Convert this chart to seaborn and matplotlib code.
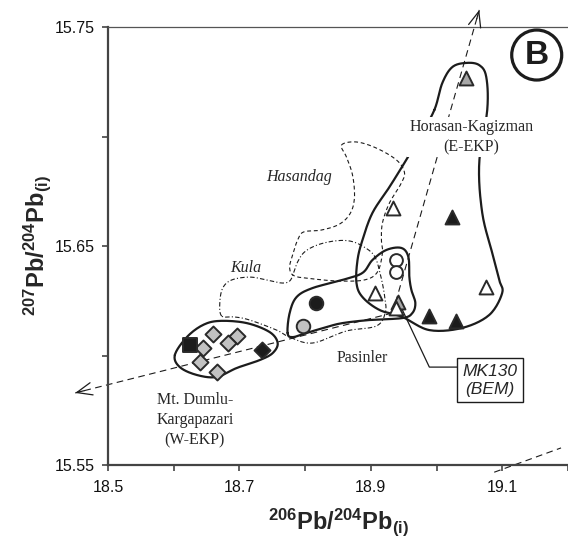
import numpy as np
import pandas as pd
import matplotlib
matplotlib.use("Agg")
import matplotlib.pyplot as plt
from matplotlib.patches import Ellipse
from matplotlib.ticker import FuncFormatter
import seaborn as sns

# --- sample groups: 206Pb/204Pb(i), 207Pb/204Pb(i) ---
dumlu_gray_x = [18.660, 18.645, 18.696, 18.683, 18.640, 18.666]
dumlu_gray_y = [15.6097, 15.6033, 15.6090, 15.6056, 15.5969, 15.5923]
dumlu_black_sq_x = [18.625]
dumlu_black_sq_y = [15.6048]
dumlu_black_dia_x = [18.735]
dumlu_black_dia_y = [15.6025]

pas_black_circ_x = [18.816]
pas_black_circ_y = [15.6238]
pas_gray_circ_x = [18.797]
pas_gray_circ_y = [15.6136]
pas_open_circ_x = [18.939, 18.939]
pas_open_circ_y = [15.6436, 15.6383]

open_tri_x = [18.934, 18.906, 18.938, 19.075]
open_tri_y = [15.6672, 15.6284, 15.6217, 15.6314]
gray_tri_x = [18.942, 19.045]
gray_tri_y = [15.6246, 15.7266]
black_tri_x = [18.989, 19.030, 19.023]
black_tri_y = [15.6182, 15.6159, 15.6634]

# --- field outlines ---
eekp_field = [(18.9966, 15.7121), (19.0087, 15.7244), (19.0239, 15.7317), (19.0452, 15.7336),
              (19.0649, 15.7326), (19.0756, 15.7272), (19.0771, 15.7121), (19.0649, 15.6879),
              (19.0695, 15.6651), (19.0847, 15.6468), (19.0953, 15.6345), (19.0998, 15.6285),
              (19.0801, 15.6185), (19.0391, 15.6126), (18.9890, 15.6116), (18.9480, 15.6176),
              (18.9131, 15.6208), (18.8872, 15.6267), (18.8781, 15.6331), (18.8797, 15.6436),
              (18.8872, 15.6527), (18.9024, 15.6651), (18.9282, 15.6769), (18.9510, 15.6879),
              (18.9730, 15.6990)]
pasinler_field = [(18.7733, 15.6103), (18.7764, 15.6194), (18.7870, 15.6267), (18.8113, 15.6308),
                  (18.8569, 15.6345), (18.8872, 15.6377), (18.9024, 15.6436), (18.9237, 15.6482),
                  (18.9465, 15.6491), (18.9571, 15.6450), (18.9586, 15.6358), (18.9617, 15.6299),
                  (18.9677, 15.6240), (18.9632, 15.6194), (18.9480, 15.6171), (18.8979, 15.6162),
                  (18.8569, 15.6148), (18.8326, 15.6130), (18.8022, 15.6103), (18.7809, 15.6084)]
wekp_field = [(18.6017, 15.6002), (18.6200, 15.6084), (18.6443, 15.6139), (18.6701, 15.6158),
              (18.7111, 15.6148), (18.7460, 15.6107), (18.7582, 15.6057), (18.7506, 15.6011),
              (18.7308, 15.5979), (18.6959, 15.5943), (18.6655, 15.5902), (18.6352, 15.5911),
              (18.6093, 15.5947)]
hasandag_field = [(18.8554, 15.6961), (18.8781, 15.6975), (18.9085, 15.6947), (18.9389, 15.6893),
                  (18.9510, 15.6838), (18.9465, 15.6788), (18.9282, 15.6696), (18.9176, 15.6605),
                  (18.9161, 15.6527), (18.9176, 15.6468), (18.9100, 15.6381), (18.8903, 15.6345),
                  (18.8523, 15.6340), (18.8143, 15.6349), (18.7840, 15.6363), (18.7764, 15.6400),
                  (18.7809, 15.6459), (18.7885, 15.6527), (18.7976, 15.6564), (18.8250, 15.6573),
                  (18.8523, 15.6600), (18.8690, 15.6651), (18.8751, 15.6724), (18.8721, 15.6824),
                  (18.8629, 15.6906)]
kula_field = [(18.6731, 15.6180), (18.6701, 15.6240), (18.6746, 15.6308), (18.6883, 15.6345),
              (18.7156, 15.6358), (18.7415, 15.6345), (18.7642, 15.6331), (18.7764, 15.6340),
              (18.7825, 15.6377), (18.7885, 15.6427), (18.7992, 15.6473), (18.8189, 15.6505),
              (18.8447, 15.6523), (18.8675, 15.6523), (18.8872, 15.6500), (18.9055, 15.6454),
              (18.9146, 15.6368), (18.9207, 15.6276), (18.9222, 15.6199), (18.9085, 15.6135),
              (18.8629, 15.6112), (18.8113, 15.6057), (18.7764, 15.6084), (18.7566, 15.6116),
              (18.7156, 15.6162), (18.6929, 15.6176)]

# --- trend arrows and reference line ---
trend_origin = (18.933, 15.6194)
trend_tip_low = (18.450, 15.5829)
trend_tip_high = (19.065, 15.7578)
ref_line_x = [19.0877, 19.1894]
ref_line_y = [15.5467, 15.5578]

mk130_point = (18.942, 15.6246)
mk130_elbow = (18.989, 15.5947)
mk130_box = (19.0816, 15.5888)

x_ticks = [18.5, 18.6, 18.7, 18.8, 18.9, 19.0, 19.1, 19.2]
x_labelled = [18.5, 18.7, 18.9, 19.1]
y_ticks = [15.55, 15.60, 15.65, 15.70, 15.75]
y_labelled = [15.55, 15.65, 15.75]


def smooth_closed(pts, n=14):
    """Closed Catmull-Rom curve through the outline vertices."""
    P = np.asarray(pts, dtype=float)
    N = len(P)
    t = np.linspace(0, 1, n, endpoint=False)[:, None]
    segs = []
    for i in range(N):
        p0, p1, p2, p3 = P[i - 1], P[i], P[(i + 1) % N], P[(i + 2) % N]
        segs.append(0.5 * (2 * p1 + (-p0 + p2) * t + (2 * p0 - 5 * p1 + 4 * p2 - p3) * t ** 2
                           + (-p0 + 3 * p1 - 3 * p2 + p3) * t ** 3))
    out = np.vstack(segs)
    return np.vstack([out, out[:1]])


sns.set_style("ticks")
plt.rcParams["font.family"] = ["Liberation Sans", "DejaVu Sans"]
plt.rcParams["mathtext.fontset"] = "custom"
plt.rcParams["mathtext.rm"] = "Liberation Sans"
plt.rcParams["mathtext.bf"] = "Liberation Sans:bold"
plt.rcParams["mathtext.it"] = "Liberation Sans:italic"

fig = plt.figure(figsize=(5.68, 5.45), dpi=100)
ax = fig.add_axes([108 / 568, 80 / 545, 460 / 568, 438 / 545])

ink = "#1c1c1c"

# field outlines
for pts, ls, lw in [(eekp_field, "-", 1.6), (pasinler_field, "-", 1.6), (wekp_field, "-", 1.6),
                    (hasandag_field, (0, (3.5, 2.5)), 0.8), (kula_field, (0, (4, 2, 1, 2)), 0.8)]:
    c = smooth_closed(pts)
    ax.plot(c[:, 0], c[:, 1], ls=ls, lw=lw, color=ink, zorder=2, solid_capstyle="round")


def dashed_arrow(start, tip):
    ax.plot([start[0], tip[0]], [start[1], tip[1]], ls=(0, (6, 4)), lw=0.8, color=ink,
            clip_on=False, zorder=2)
    back = (tip[0] + 0.03 * (start[0] - tip[0]), tip[1] + 0.03 * (start[1] - tip[1]))
    ax.annotate("", xy=tip, xytext=back, annotation_clip=False,
                arrowprops=dict(arrowstyle="->,head_length=1.1,head_width=0.45", lw=0.9,
                                color=ink, shrinkA=0, shrinkB=0, mutation_scale=10))


dashed_arrow(trend_origin, trend_tip_low)
dashed_arrow(trend_origin, trend_tip_high)
ax.plot(ref_line_x, ref_line_y, ls=(0, (6, 4)), lw=0.8, color=ink, clip_on=False, zorder=2)

# symbols
gray = "#c2c2c2"
edge = "#2a2a2a"
groups = [
    (dumlu_gray_x, dumlu_gray_y, "D", gray, 66),
    (dumlu_black_sq_x, dumlu_black_sq_y, "s", ink, 100),
    (dumlu_black_dia_x, dumlu_black_dia_y, "D", ink, 66),
    (pas_black_circ_x, pas_black_circ_y, "o", ink, 95),
    (pas_gray_circ_x, pas_gray_circ_y, "o", gray, 95),
    (pas_open_circ_x, pas_open_circ_y, "o", "white", 85),
    (gray_tri_x, gray_tri_y, "^", "#a8a8a8", 100),
    (open_tri_x, open_tri_y, "^", "white", 100),
    (black_tri_x, black_tri_y, "^", ink, 100),
]
for gx, gy, mk, fc, s in groups:
    df = pd.DataFrame({"x": gx, "y": gy})
    sns.scatterplot(data=df, x="x", y="y", marker=mk, color=fc, edgecolor=edge,
                    linewidth=1.4, s=s, ax=ax, zorder=3, legend=False)

# field labels
serif = ["Liberation Serif", "DejaVu Serif"]
ax.text(19.0528, 15.6998, "Horasan-Kagizman\n(E-EKP)", family=serif, fontsize=11.5,
        ha="center", va="center", linespacing=1.35, zorder=4,
        bbox=dict(facecolor="white", edgecolor="none", pad=1.5))
ax.text(18.790, 15.6815, "Hasandag", family=serif, style="italic", fontsize=11.5,
        ha="center", va="center")
ax.text(18.7096, 15.6400, "Kula", family=serif, style="italic", fontsize=11.5,
        ha="center", va="center")
ax.text(18.8872, 15.5989, "Pasinler", family=serif, fontsize=11.5, ha="center", va="center")
ax.text(18.6321, 15.5705, "Mt. Dumlu-\nKargapazari\n(W-EKP)", family=serif, fontsize=11.5,
        ha="center", va="center", linespacing=1.35)

# MK130 callout
ax.plot([mk130_point[0], mk130_elbow[0], 19.0345], [mk130_point[1], mk130_elbow[1], mk130_elbow[1]],
        color=ink, lw=0.9, zorder=2)
ax.text(mk130_box[0], mk130_box[1], "MK130\n(BEM)", style="italic", fontsize=12.5,
        ha="center", va="center", linespacing=1.25, zorder=4,
        bbox=dict(boxstyle="square,pad=0.3", facecolor="white", edgecolor=ink, lw=1.0))

# panel letter
ax.add_patch(Ellipse((0.932, 0.936), 50 / 460, 50 / 438, transform=ax.transAxes,
                     facecolor="white", edgecolor=ink, lw=2.3, zorder=5, clip_on=False))
ax.text(0.932, 0.934, "B", transform=ax.transAxes, fontsize=24, fontweight="bold",
        ha="center", va="center", color=ink, zorder=6)

# axes
ax.set_xlim(18.5, 19.2)
ax.set_ylim(15.55, 15.75)
ax.set_xticks(x_ticks)
ax.set_yticks(y_ticks)
ax.xaxis.set_major_formatter(FuncFormatter(
    lambda v, p: f"{v:.1f}" if any(abs(v - t) < 1e-6 for t in x_labelled) else ""))
ax.yaxis.set_major_formatter(FuncFormatter(
    lambda v, p: f"{v:.2f}" if any(abs(v - t) < 1e-6 for t in y_labelled) else ""))
ax.tick_params(axis="both", direction="out", length=4.5, width=1.2, color="#444444",
               labelsize=11.5, labelcolor="#111111")
ax.tick_params(axis="x", pad=6)
ax.tick_params(axis="y", pad=5)

for side in ["left", "bottom"]:
    ax.spines[side].set_linewidth(1.6)
    ax.spines[side].set_color("#444444")
ax.spines["top"].set_linewidth(0.9)
ax.spines["top"].set_color("#555555")
ax.spines["right"].set_visible(False)

ax.set_xlabel(r"$\mathbf{{}^{206}Pb/{}^{204}Pb_{(i)}}$", fontsize=17)
ax.set_ylabel(r"$\mathbf{{}^{207}Pb/{}^{204}Pb_{(i)}}$", fontsize=17)
ax.xaxis.set_label_coords(0.5, -0.095)
ax.yaxis.set_label_coords(-0.12, 0.5)

fig.savefig("out.png", dpi=100)
